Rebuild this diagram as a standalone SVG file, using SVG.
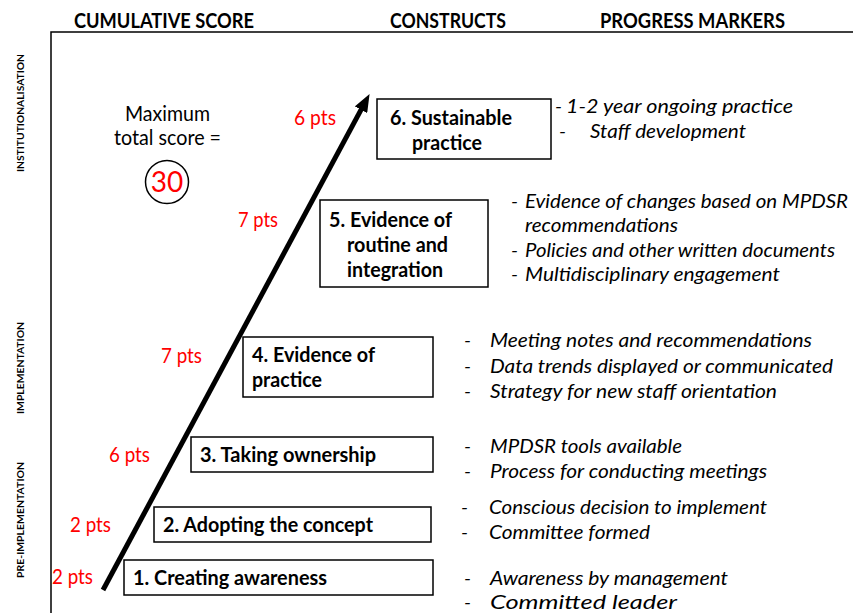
<svg xmlns="http://www.w3.org/2000/svg" width="853" height="613" viewBox="0 0 853 613">
<style>
text{font-family:Lato,"Open Sans","Liberation Sans",sans-serif;}
.hdr{font-size:21px;font-weight:bold;fill:#000;}
.side{font-size:10px;font-weight:bold;fill:#000;}
.box{fill:#fff;stroke:#000;stroke-width:1.5;}
.bt{font-size:21px;font-weight:bold;fill:#000;}
.pts{font-size:21px;fill:#ff0000;}
.pm{font-size:20px;font-style:italic;fill:#000;}
.blk{font-size:21px;fill:#000;}
</style>
<defs>
<marker id="ah" markerUnits="userSpaceOnUse" viewBox="0 -7 18 14" markerWidth="18" markerHeight="14" refX="1" refY="0" orient="auto">
<path d="M0,-7 L18,0 L0,7 z" fill="#000"/>
</marker>
</defs>
<rect width="853" height="613" fill="#fff"/>
<g id="axes">
<polyline points="51,613 51,32 853,32" fill="none" stroke="#000" stroke-width="1.5"/>
</g>
<g id="headers">
<text class="hdr" x="74" y="28" textLength="180" lengthAdjust="spacingAndGlyphs">CUMULATIVE SCORE</text>
<text class="hdr" x="390" y="28" textLength="116" lengthAdjust="spacingAndGlyphs">CONSTRUCTS</text>
<text class="hdr" x="600" y="28" textLength="185" lengthAdjust="spacingAndGlyphs">PROGRESS MARKERS</text>
</g>
<g id="phases">
<text class="side" transform="translate(24,113) rotate(-90)" text-anchor="middle" textLength="118" lengthAdjust="spacingAndGlyphs">INSTITUTIONALISATION</text>
<text class="side" transform="translate(24,368) rotate(-90)" text-anchor="middle" textLength="92" lengthAdjust="spacingAndGlyphs">IMPLEMENTATION</text>
<text class="side" transform="translate(24,520) rotate(-90)" text-anchor="middle" textLength="116" lengthAdjust="spacingAndGlyphs">PRE-IMPLEMENTATION</text>
</g>
<g id="connectors">
<line x1="103" y1="590" x2="361.5" y2="108.9" stroke="#000" stroke-width="5" marker-end="url(#ah)"/>
</g>
<g id="max-score">
<text class="blk" x="125" y="121" textLength="85" lengthAdjust="spacingAndGlyphs">Maximum</text>
<text class="blk" x="114" y="145" textLength="107" lengthAdjust="spacingAndGlyphs">total score =</text>
<circle cx="167" cy="182" r="21.5" fill="none" stroke="#000" stroke-width="1.5"/>
<text x="167" y="192" text-anchor="middle" style="font-size:28px;fill:#ff0000">30</text>
</g>
<g id="points">
<text class="pts" x="294" y="125" textLength="42" lengthAdjust="spacingAndGlyphs">6 pts</text>
<text class="pts" x="238" y="227" textLength="40" lengthAdjust="spacingAndGlyphs">7 pts</text>
<text class="pts" x="161" y="363" textLength="41" lengthAdjust="spacingAndGlyphs">7 pts</text>
<text class="pts" x="109" y="462" textLength="41" lengthAdjust="spacingAndGlyphs">6 pts</text>
<text class="pts" x="70" y="532" textLength="41" lengthAdjust="spacingAndGlyphs">2 pts</text>
<text class="pts" x="52" y="584" textLength="41" lengthAdjust="spacingAndGlyphs">2 pts</text>
</g>
<g id="c1">
<rect class="box" x="124" y="560" width="309" height="35"/>
<text class="bt" x="133" y="585" textLength="194" lengthAdjust="spacingAndGlyphs">1. Creating awareness</text>
</g>
<g id="c2">
<rect class="box" x="154" y="507" width="277" height="35"/>
<text class="bt" x="163" y="532" textLength="210" lengthAdjust="spacingAndGlyphs">2. Adopting the concept</text>
</g>
<g id="c3">
<rect class="box" x="191" y="437" width="242" height="35"/>
<text class="bt" x="200" y="462" textLength="176" lengthAdjust="spacingAndGlyphs">3. Taking ownership</text>
</g>
<g id="c4">
<rect class="box" x="243" y="337" width="190" height="60"/>
<text class="bt" x="252" y="362" textLength="123" lengthAdjust="spacingAndGlyphs">4. Evidence of</text>
<text class="bt" x="252" y="387" textLength="70" lengthAdjust="spacingAndGlyphs">practice</text>
</g>
<g id="c5">
<rect class="box" x="320" y="200" width="168" height="87"/>
<text class="bt" x="329" y="227" textLength="123" lengthAdjust="spacingAndGlyphs">5. Evidence of</text>
<text class="bt" x="347" y="252" textLength="101" lengthAdjust="spacingAndGlyphs">routine and</text>
<text class="bt" x="347" y="277" textLength="96" lengthAdjust="spacingAndGlyphs">integration</text>
</g>
<g id="c6">
<rect class="box" x="377" y="99" width="174" height="60"/>
<text class="bt" x="390" y="125" textLength="122" lengthAdjust="spacingAndGlyphs">6. Sustainable</text>
<text class="bt" x="412" y="150" textLength="70" lengthAdjust="spacingAndGlyphs">practice</text>
</g>
<g id="m6">
<text class="pm" x="555" y="113">-</text>
<text class="pm" x="566" y="113" textLength="227" lengthAdjust="spacingAndGlyphs">1-2 year ongoing practice</text>
<text class="pm" x="559" y="138">-</text>
<text class="pm" x="590" y="138" textLength="156" lengthAdjust="spacingAndGlyphs">Staff development</text>
</g>
<g id="m5">
<text class="pm" x="511" y="208">-</text>
<text class="pm" x="525" y="208" textLength="323" lengthAdjust="spacingAndGlyphs">Evidence of changes based on MPDSR</text>
<text class="pm" x="525" y="232" textLength="153" lengthAdjust="spacingAndGlyphs">recommendations</text>
<text class="pm" x="511" y="257">-</text>
<text class="pm" x="525" y="257" textLength="310" lengthAdjust="spacingAndGlyphs">Policies and other written documents</text>
<text class="pm" x="511" y="281">-</text>
<text class="pm" x="525" y="281" textLength="255" lengthAdjust="spacingAndGlyphs">Multidisciplinary engagement</text>
</g>
<g id="m4">
<text class="pm" x="464" y="347">-</text>
<text class="pm" x="490" y="347" textLength="322" lengthAdjust="spacingAndGlyphs">Meeting notes and recommendations</text>
<text class="pm" x="464" y="373">-</text>
<text class="pm" x="490" y="373" textLength="343" lengthAdjust="spacingAndGlyphs">Data trends displayed or communicated</text>
<text class="pm" x="464" y="398">-</text>
<text class="pm" x="490" y="398" textLength="287" lengthAdjust="spacingAndGlyphs">Strategy for new staff orientation</text>
</g>
<g id="m3">
<text class="pm" x="464" y="453">-</text>
<text class="pm" x="490" y="453" textLength="192" lengthAdjust="spacingAndGlyphs">MPDSR tools available</text>
<text class="pm" x="464" y="478">-</text>
<text class="pm" x="490" y="478" textLength="277" lengthAdjust="spacingAndGlyphs">Process for conducting meetings</text>
</g>
<g id="m2">
<text class="pm" x="461" y="514">-</text>
<text class="pm" x="489" y="514" textLength="278" lengthAdjust="spacingAndGlyphs">Conscious decision to implement</text>
<text class="pm" x="461" y="539">-</text>
<text class="pm" x="489" y="539" textLength="161" lengthAdjust="spacingAndGlyphs">Committee formed</text>
</g>
<g id="m1">
<text class="pm" x="464" y="585">-</text>
<text class="pm" x="490" y="585" textLength="238" lengthAdjust="spacingAndGlyphs">Awareness by management</text>
<text class="pm" x="464" y="609">-</text>
<text class="pm" x="490" y="609" textLength="187" lengthAdjust="spacingAndGlyphs">Committed leader</text>
</g>
</svg>
